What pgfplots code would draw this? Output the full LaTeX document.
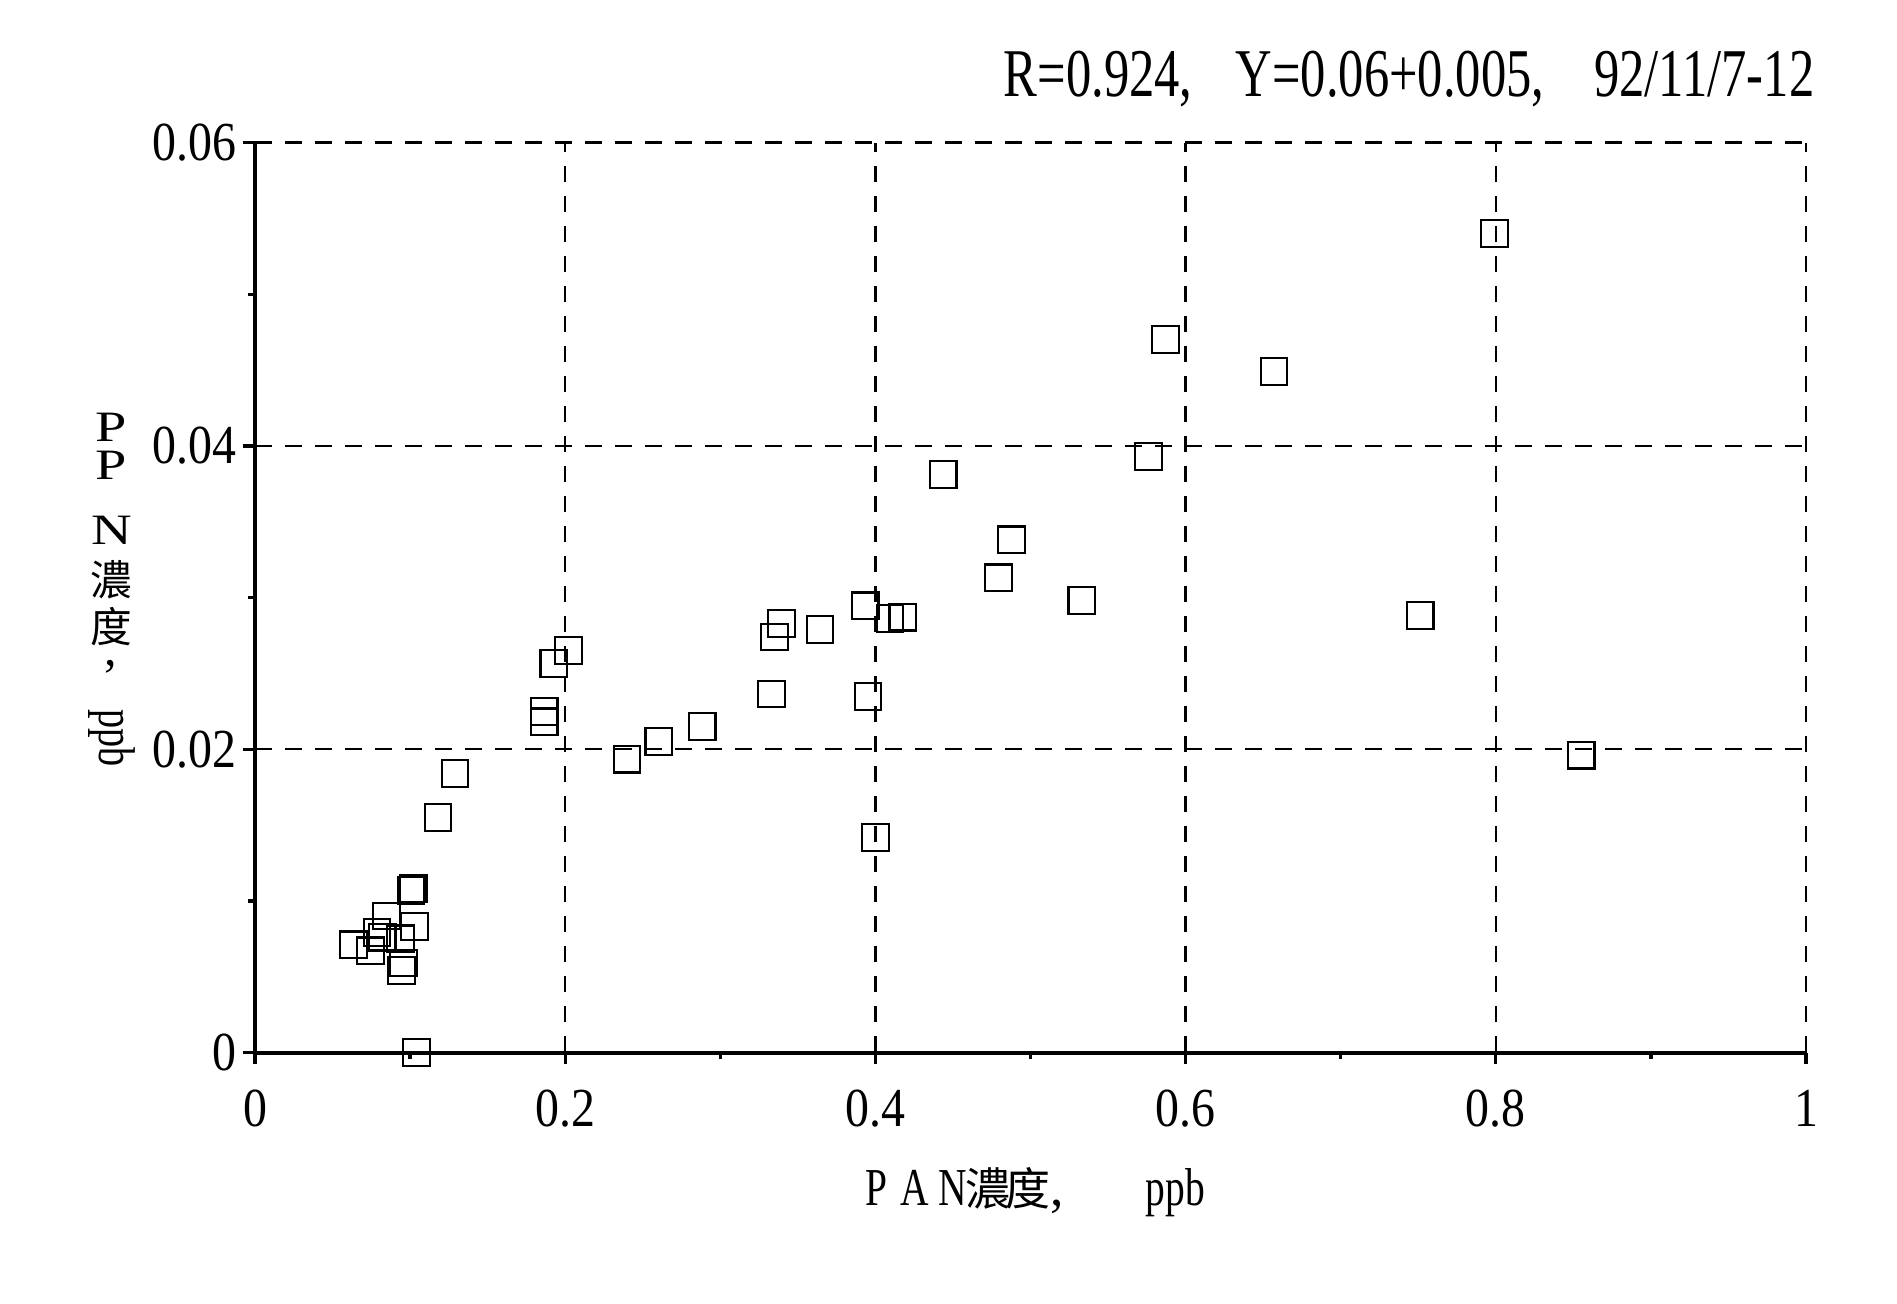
\documentclass[border=0pt]{standalone}
\usepackage{pgfplots}
\pgfplotsset{compat=1.18}
\usepackage{fontspec}
\setmainfont{Liberation Serif}
\newfontfamily\tickfont[FakeStretch=0.87]{Liberation Serif}
\newfontfamily\titlefont[FakeStretch=0.74]{Liberation Serif}
\newfontfamily\wideserif[FakeStretch=1.3]{Liberation Serif}
\newfontfamily\cjk{Noto Sans CJK TC}

\begin{document}
\begin{tikzpicture}
\path (-76.5bp,-75.45bp) rectangle (492.6bp,315.75bp);
\begin{axis}[
  at={(0,0)}, anchor=south west,
  scale only axis, width=465.3bp, height=273bp,
  xmin=0, xmax=1, ymin=0, ymax=0.06,
  clip=false,
  scaled y ticks=false, scaled x ticks=false,
  axis x line=bottom, axis y line=left,
  axis line style={line width=1.2bp, -},
  xtick={0,0.2,0.4,0.6,0.8,1},
  xticklabels={0,0.2,0.4,0.6,0.8,1},
  ytick={0,0.02,0.04,0.06},
  yticklabels={0,0.02,0.04,0.06},
  minor xtick={0.1,0.3,0.5,0.7,0.9},
  minor ytick={0.01,0.03,0.05},
  tick align=outside,
  major tick length=3.5bp, minor tick length=2bp,
  every tick/.style={line width=1bp, black},
  grid=major,
  major grid style={line width=0.7bp, black, dash pattern=on 5bp off 4bp},
  xticklabel style={font=\tickfont\fontsize{16.5bp}{19bp}\selectfont, yshift=-4.3bp},
  yticklabel style={font=\tickfont\fontsize{16.5bp}{19bp}\selectfont, xshift=1.5bp},
  /pgf/number format/assume math mode=true,
]
\addplot[only marks, mark=square, mark size=4bp,
  mark options={line width=0.65bp, black, fill=none}]
coordinates {
(0.799,0.0540)
(0.587,0.0470)
(0.657,0.0449)
(0.576,0.0393)
(0.4437,0.0381)
(0.4877,0.0338)
(0.4793,0.0313)
(0.5331,0.0298)
(0.7512,0.0288)
(0.3934,0.02945)
(0.4094,0.0286)
(0.4177,0.0287)
(0.3643,0.0279)
(0.3394,0.0283)
(0.3351,0.0274)
(0.3330,0.02364)
(0.3952,0.02347)
(0.4001,0.01417)
(0.8550,0.0196)
(0.2022,0.0265)
(0.1927,0.02565)
(0.1864,0.02248)
(0.1864,0.0218)
(0.2398,0.01934)
(0.2604,0.0205)
(0.2883,0.0215)
(0.129,0.0184)
(0.118,0.0155)
(0.1006,0.0107)
(0.1020,0.0108)
(0.0847,0.0090)
(0.1028,0.0083)
(0.0634,0.0071)
(0.0744,0.0067)
(0.0787,0.0079)
(0.0820,0.0076)
(0.0938,0.0075)
(0.0959,0.0059)
(0.0944,0.0054)
(0.1040,0.0000)
};
\end{axis}
% title
\node[anchor=base east, inner sep=0pt, font=\titlefont\fontsize{20.5bp}{24bp}\selectfont]
  at (468bp,286.7bp) {R=0.924,\hspace{13bp}Y=0.06+0.005,\hspace{15bp}92/11/7-12};
% x label
\begin{scope}[every node/.style={inner sep=0pt, anchor=base}]
\node[font=\titlefont\fontsize{16bp}{19bp}\selectfont] at (186.5bp,-45.75bp) {P};
\node[font=\titlefont\fontsize{16bp}{19bp}\selectfont] at (198bp,-45.75bp) {A};
\node[font=\titlefont\fontsize{16bp}{19bp}\selectfont] at (209.3bp,-45.75bp) {N};
\node[font=\cjk\fontsize{13.5bp}{16bp}\selectfont] at (220bp,-45.75bp) {濃};
\node[font=\cjk\fontsize{13.5bp}{16bp}\selectfont] at (232bp,-45.75bp) {度};
\node[font=\fontsize{16bp}{19bp}\selectfont] at (240.5bp,-45.75bp) {,};
\node[anchor=base west, font=\titlefont\fontsize{16bp}{19bp}\selectfont] at (267bp,-45.75bp) {ppb};
\end{scope}
% y label (vertical writing)
\begin{scope}[every node/.style={inner sep=0pt, anchor=center}]
\node[font=\wideserif\fontsize{13bp}{15bp}\selectfont] at (-43bp,187.6bp) {P};
\node[font=\wideserif\fontsize{13bp}{15bp}\selectfont] at (-43bp,176.1bp) {P};
\node[font=\wideserif\fontsize{13bp}{15bp}\selectfont] at (-43bp,156.8bp) {N};
\node[font=\cjk\fontsize{12.5bp}{15bp}\selectfont] at (-43bp,141.8bp) {濃};
\node[anchor=base] at (-43bp,123bp)
  {{\cjk\fontsize{12.5bp}{15bp}\selectfont 度}\llap{\raisebox{-7bp}{\rmfamily\fontsize{15bp}{15bp}\selectfont ,\hspace{4.5bp}}}};
\node[rotate=-90, font=\titlefont\fontsize{15.5bp}{18bp}\selectfont] at (-43bp,94.4bp) {ppb};
\end{scope}
\end{tikzpicture}
\end{document}
